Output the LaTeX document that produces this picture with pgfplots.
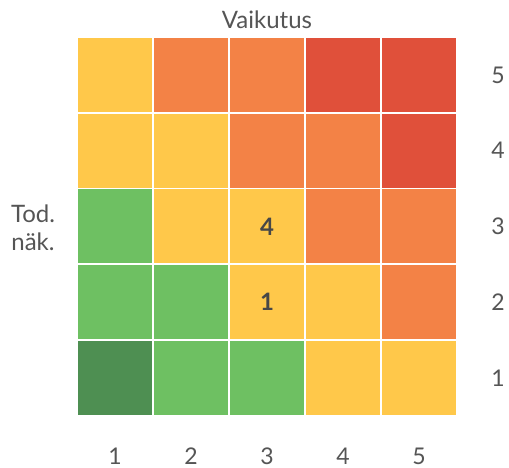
\documentclass[border=0pt]{standalone}
\usepackage{pgfplots}
\pgfplotsset{compat=1.18}
\usepackage{fontspec}
\setmainfont{Lato}
\definecolor{cDG}{HTML}{4E8F52}
\definecolor{cG}{HTML}{6EC062}
\definecolor{cY}{HTML}{FFC84A}
\definecolor{cO}{HTML}{F38246}
\definecolor{cR}{HTML}{E0503A}
\definecolor{txt}{HTML}{555555}
\pgfplotsset{cell/.style={only marks, mark=square*, mark size=36.5pt, color=#1, mark options={fill=#1, draw=#1, line width=0pt}}}
\begin{document}
\begin{tikzpicture}
\useasboundingbox (-77pt,-52pt) rectangle (432pt,416pt);
\begin{axis}[
  scale only axis, width=380pt, height=379pt,
  xmin=0.5, xmax=5.5, ymin=0.5, ymax=5.5,
  clip=false,
  axis line style={draw=none},
  major tick length=0pt,
  xtick={1,2,3,4,5}, ytick={1,2,3,4,5},
  xticklabel pos=bottom, yticklabel pos=right,
  xticklabel style={anchor=center, yshift=-40pt},
  yticklabel style={anchor=center, xshift=41pt},
  tick label style={font=\fontsize{23}{27}\selectfont, text=txt, inner sep=0pt},
  /pgf/number format/assume math mode=true,
]
\addplot[cell=cDG] coordinates {(1,1)};
\addplot[cell=cG] coordinates {(2,1)(3,1)(1,2)(2,2)(1,3)};
\addplot[cell=cY] coordinates {(4,1)(5,1)(3,2)(4,2)(2,3)(3,3)(1,4)(2,4)(1,5)};
\addplot[cell=cO] coordinates {(5,2)(4,3)(5,3)(3,4)(4,4)(2,5)(3,5)};
\addplot[cell=cR] coordinates {(5,4)(4,5)(5,5)};
\addplot[only marks, mark=none, nodes near coords, point meta=explicit symbolic,
  nodes near coords align={center},
  every node near coord/.append style={font=\bfseries\fontsize{24}{28}\selectfont, text=black!72}]
  table[meta=label] {
x y label
3 3 4
3 2 1
};
\end{axis}
\node[text=txt, font=\fontsize{24}{28}\selectfont] at (190pt,396pt) {Vaikutus};
\node[text=txt, font=\fontsize{24}{28}\selectfont, align=center] at (-44pt,188pt) {Tod.\\näk.};
\end{tikzpicture}
\end{document}
